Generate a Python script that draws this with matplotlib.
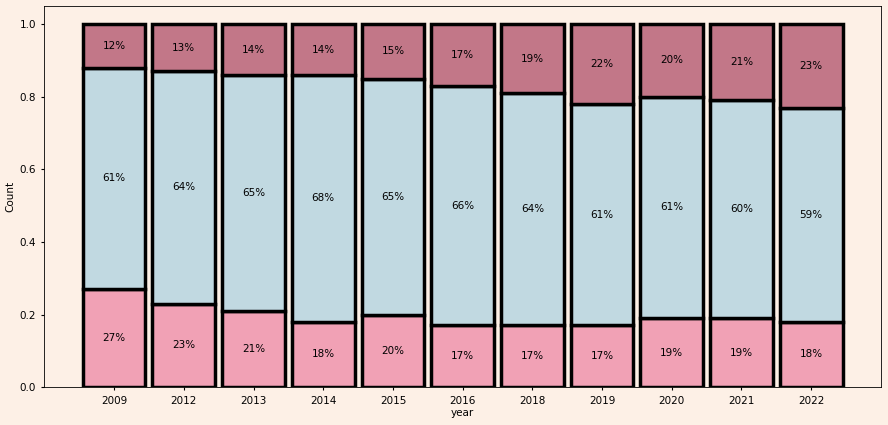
import matplotlib
matplotlib.use("Agg")
import matplotlib.pyplot as plt
import numpy as np

years = ["2009", "2012", "2013", "2014", "2015", "2016", "2018", "2019", "2020", "2021", "2022"]
bottom_pct = [27, 23, 21, 18, 20, 17, 17, 17, 19, 19, 18]
middle_pct = [61, 64, 65, 68, 65, 66, 64, 61, 61, 60, 59]
top_pct = [12, 13, 14, 14, 15, 17, 19, 22, 20, 21, 23]

colors = ["#f1a1b5", "#c1d9e1", "#c27788"]
bg = "#fdf0e6"

plt.rcParams["font.size"] = 7.5
plt.rcParams["xtick.major.size"] = 2.5
plt.rcParams["ytick.major.size"] = 2.5
plt.rcParams["axes.linewidth"] = 0.6

fig = plt.figure(figsize=(8.88, 4.25), dpi=100, facecolor=bg)
ax = fig.add_axes([0.05, 0.089, 0.942, 0.897])
ax.set_facecolor(bg)

x = np.arange(len(years))
base = np.zeros(len(years))
for pct, c in zip([bottom_pct, middle_pct, top_pct], colors):
    vals = np.array(pct) / 100.0
    ax.bar(x, vals, bottom=base, width=0.9, color=c, edgecolor="black", linewidth=2.5)
    for xi, b, v, p in zip(x, base, vals, pct):
        ax.text(xi, b + v / 2, "%d%%" % p, ha="center", va="center", fontsize=7.5)
    base = base + vals

ax.set_xticks(x)
ax.set_xticklabels(years)
ax.set_xlim(-1, len(years))
ax.set_ylim(0, 1.05)
ax.set_xlabel("year", labelpad=2)
ax.set_ylabel("Count", labelpad=3)

fig.savefig("out.png", dpi=100, facecolor=bg)
